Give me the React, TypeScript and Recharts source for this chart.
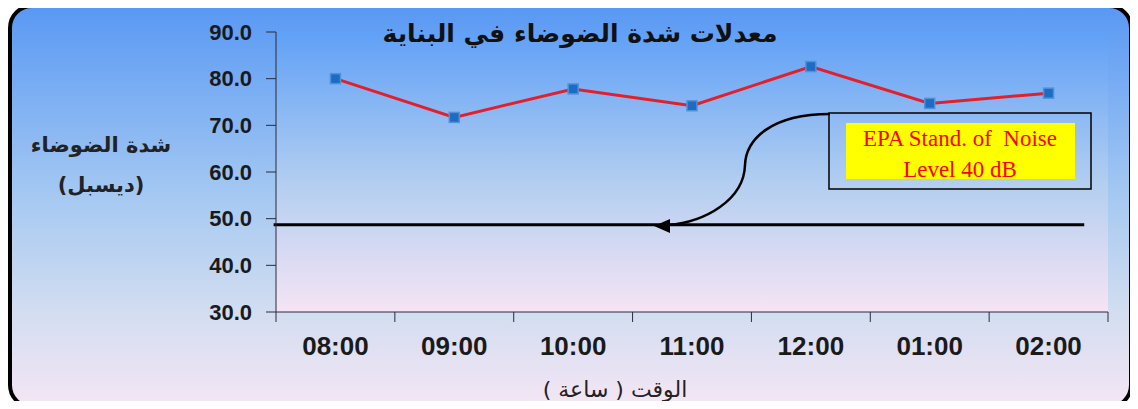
import React from 'react';
import { LineChart, Line, XAxis, YAxis, ReferenceLine, CartesianGrid, Customized } from 'recharts';

const hours = ['08:00', '09:00', '10:00', '11:00', '12:00', '01:00', '02:00'];
const noiseLevels = [80.0, 71.7, 77.8, 74.2, 82.6, 74.7, 76.9];
const yTicks = [30, 40, 50, 60, 70, 80, 90];
const epaLevel = 48.7;

const chartTitle = 'معدلات شدة الضوضاء في البناية';
const yTitle = ['شدة الضوضاء', '(ديسبل)'];
const xTitle = 'الوقت ( ساعة )';
const noteLines = ['EPA Stand. of  Noise', 'Level 40 dB'];

// pos = middle of each hour's slot, so the tick marks fall between the hours
const data = hours.map((hour, i) => ({ hour, level: noiseLevels[i], pos: i + 0.5 }));
const boundaryTicks = [...hours.map((_, i) => i), hours.length];

const arabicFont = '"DejaVu Sans", sans-serif';

const SquareDot = (props: any) => {
  const { cx, cy } = props;
  if (cx == null || cy == null) return null;
  return <rect x={cx - 5} y={cy - 5} width={10} height={10} fill="#1b6cc2" stroke="#4f92d8" strokeWidth={1.5} />;
};

// tick marks only, labels come from the "cat" axis
const NoLabel = () => <g />;

const Annotations = () => (
  <g>
    <rect x={10} y={6} width={1121} height={401} rx={22} fill="none" stroke="#000" strokeWidth={4} />
    <text x={580} y={42} textAnchor="middle" direction="rtl" fontFamily={arabicFont} fontWeight="bold" fontSize={25} fill="#111">
      {chartTitle}
    </text>
    <text x={101} y={152} textAnchor="middle" direction="rtl" fontFamily={arabicFont} fontSize={21} fontWeight="bold" fill="#222">
      {yTitle[0]}
    </text>
    <text x={101} y={192} textAnchor="middle" direction="rtl" fontFamily={arabicFont} fontSize={21} fontWeight="bold" fill="#222">
      {yTitle[1]}
    </text>
    <text x={615} y={397} textAnchor="middle" direction="rtl" fontFamily={arabicFont} fontSize={22} fill="#222">
      {xTitle}
    </text>
    <rect x={829} y={113} width={262} height={76} fill="none" stroke="#000" strokeWidth={1.5} />
    <rect x={846} y={123} width={229} height={56} fill="#ffff00" />
    <text x={960} y={146} textAnchor="middle" fontFamily='"Liberation Serif", serif' fontSize={23} fill="#ff0000" style={{ whiteSpace: 'pre' }}>
      {noteLines[0]}
    </text>
    <text x={960} y={177} textAnchor="middle" fontFamily='"Liberation Serif", serif' fontSize={23} fill="#ff0000">
      {noteLines[1]}
    </text>
    <path d="M 830 114 C 770 114, 746 140, 745 165 C 744 200, 705 222, 668 225" fill="none" stroke="#000" strokeWidth={2.5} />
    <path d="M 654 226 L 670 219 L 670 233 Z" fill="#000" />
  </g>
);

export default function App() {
  return (
    <div style={{ position: 'relative', width: 1138, height: 409, margin: -8 }}>
      <svg width={0} height={0} style={{ position: 'absolute' }}>
        <defs>
          <linearGradient id="plotBg" x1="0" y1="0" x2="0" y2="1">
            <stop offset="0%" stopColor="#60a0f7" />
            <stop offset="55%" stopColor="#b4cff0" />
            <stop offset="100%" stopColor="#f6e4f4" />
          </linearGradient>
        </defs>
      </svg>
      <div
        style={{
          position: 'absolute',
          left: 9,
          top: 5,
          width: 1123,
          height: 403,
          borderRadius: 22,
          background: 'linear-gradient(to bottom, #5898f4 0%, #a6c9f2 48%, #d2ddf0 76%, #f5e6f5 100%)',
        }}
      />
      <div style={{ position: 'absolute', left: 0, top: 0 }}>
        <LineChart width={1138} height={409} data={data} margin={{ top: 32, right: 30, bottom: 47, left: 196 }}>
          <CartesianGrid xAxisId="bounds" horizontal={false} vertical={false} fill="url(#plotBg)" fillOpacity={1} stroke="none" />
          <XAxis
            xAxisId="bounds"
            dataKey="pos"
            type="number"
            domain={[0, hours.length]}
            allowDataOverflow
            ticks={boundaryTicks}
            tick={<NoLabel />}
            tickSize={10}
            height={1}
            axisLine={{ stroke: '#2b2b3b' }}
            tickLine={{ stroke: '#2b2b3b' }}
          />
          <XAxis
            xAxisId="cat"
            dataKey="hour"
            scale="band"
            height={49}
            axisLine={false}
            tickLine={false}
            tickSize={0}
            tickMargin={24}
            interval={0}
            tick={{ fontFamily: '"Liberation Sans", Arial, sans-serif', fontWeight: 'bold', fontSize: 26, fill: '#1a1a1a' }}
          />
          <YAxis
            domain={[30, 90]}
            ticks={yTicks}
            width={80}
            tickSize={10}
            tickMargin={14}
            tickFormatter={(v: number) => v.toFixed(1)}
            axisLine={{ stroke: '#2b2b3b' }}
            tickLine={{ stroke: '#2b2b3b' }}
            tick={{ fontFamily: '"Liberation Sans", Arial, sans-serif', fontWeight: 'bold', fontSize: 22, fill: '#1a1a1a' }}
          />
          <ReferenceLine
            xAxisId="bounds"
            segment={[{ x: -0.02, y: epaLevel }, { x: 6.8, y: epaLevel }]}
            stroke="#000"
            strokeWidth={3}
            ifOverflow="visible"
          />
          <Line
            xAxisId="bounds"
            type="linear"
            dataKey="level"
            stroke="#e3202a"
            strokeWidth={3}
            dot={<SquareDot />}
            activeDot={false}
            isAnimationActive={false}
          />
          <Customized component={Annotations} />
        </LineChart>
      </div>
    </div>
  );
}
